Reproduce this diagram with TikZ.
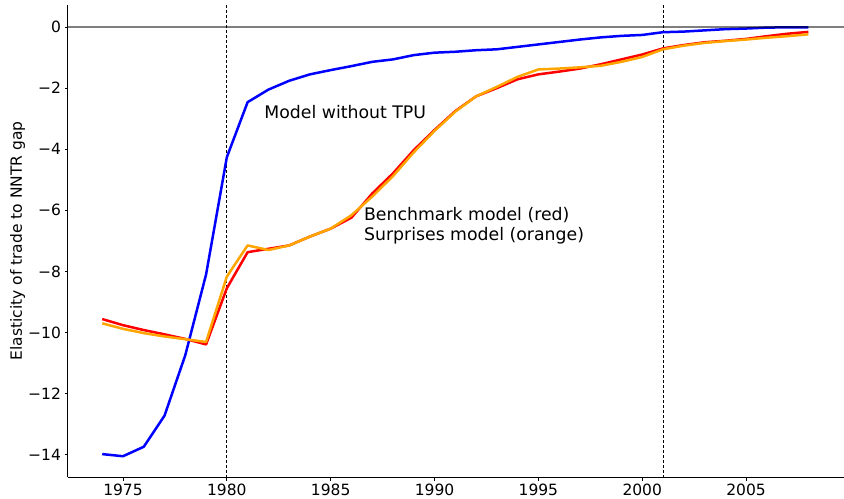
\documentclass[tikz,border=0pt]{standalone}
\usepackage{fontspec}
\setmainfont{DejaVu Sans}
\usetikzlibrary{positioning}
\definecolor{mplorange}{RGB}{255,165,0}
\begin{document}
\begin{tikzpicture}[y=30.55pt, x=20.77pt, font=\fontsize{15.5}{18}\selectfont,
	curve/.style={line width=2.5pt, line join=round},
	policy/.style={line width=0.8pt, dash pattern=on 3pt off 2pt},
	note/.style={anchor=base west, inner sep=0pt, font=\fontsize{17.3}{20}\selectfont}]
	\useasboundingbox (-0.922,-15.450) rectangle (39.714,0.884);
	%axis
	\draw[line width=0.8pt] (2.328,0.72) -- coordinate (y axis mid) (2.328,-14.746);
	\draw[line width=0.8pt] (2.328,-14.746) -- coordinate (x axis mid) (39.714,-14.746);
	%ticks
	\foreach \yr in {1975,1980,...,2005}
	\draw[line width=0.8pt] ({\yr-1970},-14.746) -- ({\yr-1970},-14.85)
	node[anchor=north, inner sep=0pt, yshift=-3pt] {\yr};
	\foreach \v in {0,2,...,14}
	\draw[line width=0.8pt] (2.328,-\v) -- (2.2,-\v)
	node[anchor=east, inner sep=0pt, xshift=-3.5pt] {\ifnum\v=0 0\else −\v\fi};
	%labels
	\node[rotate=90] (ylab) at (-0.08,-7) {Elasticity of trade to NNTR gap};
	%policy dates
	\draw[policy] (10,0.72) -- (10,-14.746);
	\draw[policy] (31,0.72) -- (31,-14.746);
	%plots
	\draw[curve, blue] plot coordinates{(4,-13.98) (5,-14.05) (6,-13.74) (7,-12.72)
		(8,-10.74) (9,-8.10) (10,-4.26) (11,-2.46) (12,-2.05) (13,-1.76)
		(14,-1.55) (15,-1.41) (16,-1.28) (17,-1.14) (18,-1.06) (19,-0.92)
		(20,-0.84) (21,-0.81) (22,-0.76) (23,-0.73) (24,-0.65) (25,-0.57)
		(26,-0.49) (27,-0.41) (28,-0.34) (29,-0.29) (30,-0.26) (31,-0.17)
		(32,-0.15) (33,-0.11) (34,-0.07) (35,-0.05) (36,-0.02) (37,-0.01)
		(38,-0.01)};
	\draw[curve, red] plot coordinates{(4,-9.56) (5,-9.76) (6,-9.92) (7,-10.06)
		(8,-10.21) (9,-10.39) (10,-8.55) (11,-7.37) (12,-7.26) (13,-7.15)
		(14,-6.86) (15,-6.60) (16,-6.24) (17,-5.45) (18,-4.79) (19,-4.03)
		(20,-3.37) (21,-2.75) (22,-2.27) (23,-2.00) (24,-1.71) (25,-1.55)
		(26,-1.46) (27,-1.36) (28,-1.22) (29,-1.06) (30,-0.90) (31,-0.70)
		(32,-0.59) (33,-0.50) (34,-0.45) (35,-0.39) (36,-0.30) (37,-0.22)
		(38,-0.16)};
	\draw[curve, mplorange] plot coordinates{(4,-9.70) (5,-9.88) (6,-10.02) (7,-10.13)
		(8,-10.22) (9,-10.31) (10,-8.17) (11,-7.15) (12,-7.30) (13,-7.15)
		(14,-6.86) (15,-6.60) (16,-6.16) (17,-5.55) (18,-4.88) (19,-4.10)
		(20,-3.40) (21,-2.77) (22,-2.27) (23,-1.96) (24,-1.63) (25,-1.39)
		(26,-1.36) (27,-1.32) (28,-1.27) (29,-1.14) (30,-0.98) (31,-0.73)
		(32,-0.61) (33,-0.52) (34,-0.46) (35,-0.41) (36,-0.35) (37,-0.30)
		(38,-0.24)};
	%zero line
	\draw[line width=1.5pt, black, opacity=0.5] (2.328,0) -- (39.714,0);
	%notes
	\node[note] (notpu) at (11.8,-3) {Model without TPU};
	\node[note] (bench) at (16.6,-6.35) {Benchmark model (red)};
	\node[note, below=19.7pt of bench.base west, anchor=base west] (surp) {Surprises model (orange)};
\end{tikzpicture}
\end{document}
